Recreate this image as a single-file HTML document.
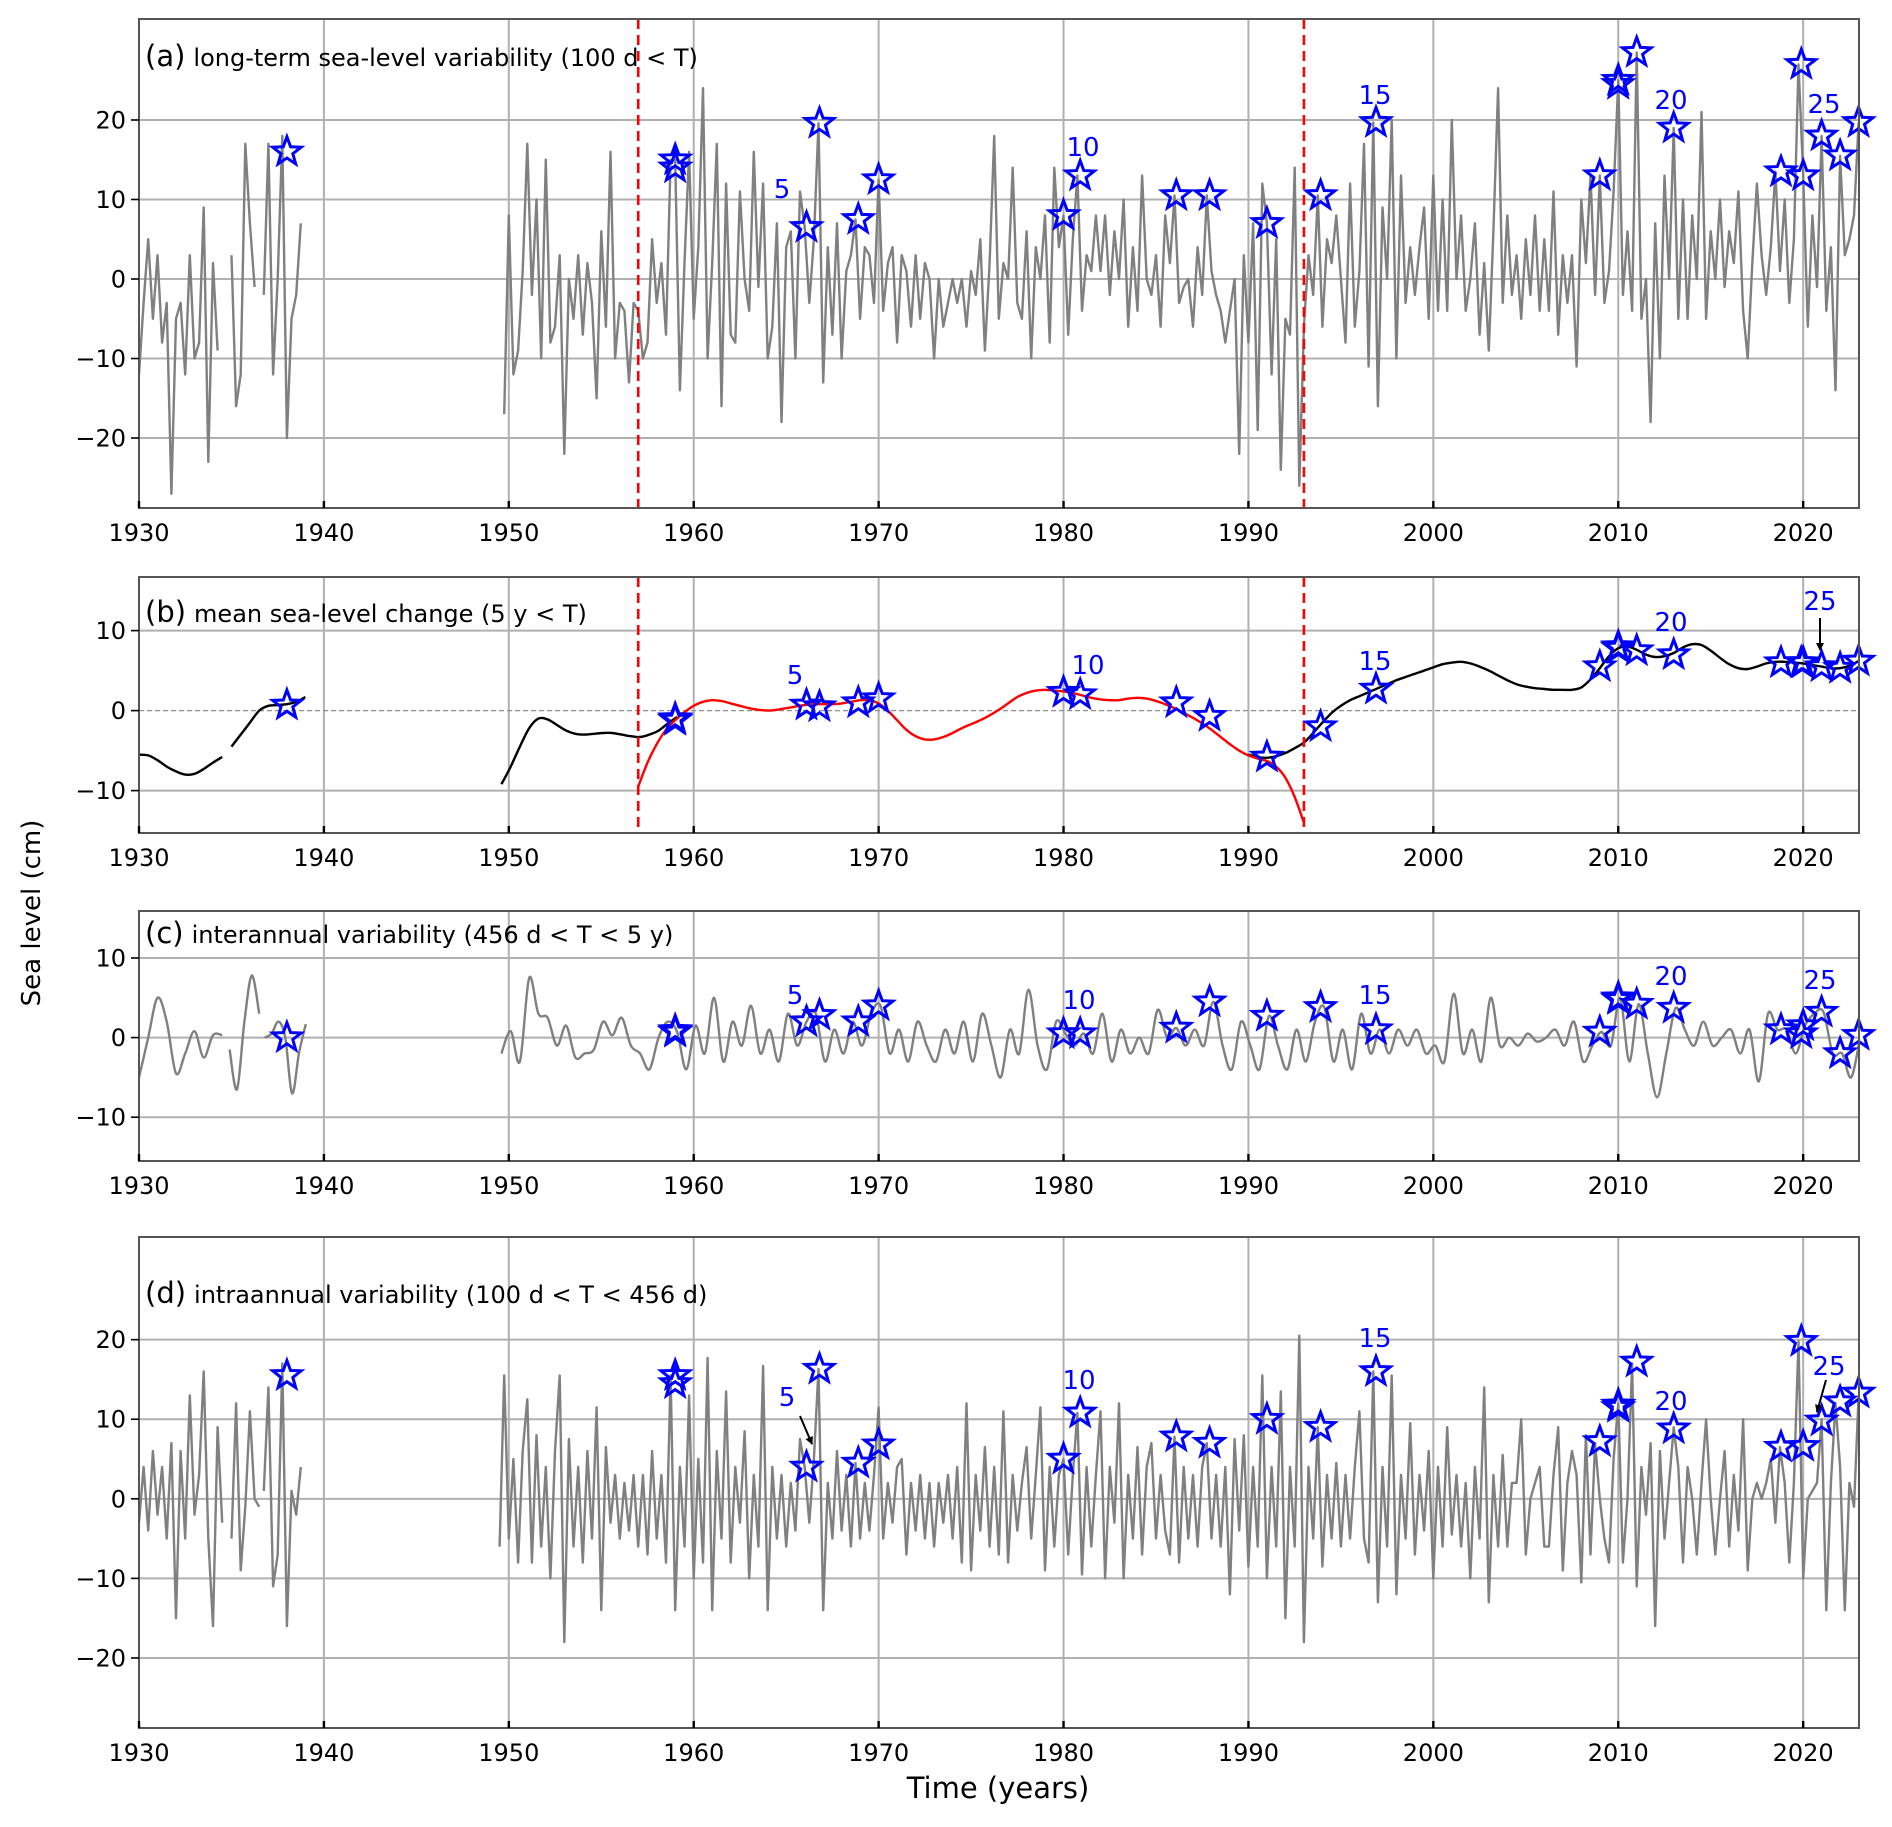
<!DOCTYPE html>
<html><head><meta charset="utf-8"><title>Sea level components</title>
<style>
body{margin:0;background:#fff;}
svg{display:block;font-family:"DejaVu Sans","Liberation Sans",sans-serif;}
</style></head>
<body>
<svg id="chart" width="1892" height="1827" viewBox="0 0 1892 1827" xmlns="http://www.w3.org/2000/svg">
<text x="40" y="913" font-size="26" text-anchor="middle" transform="rotate(-90 40 913)">Sea level (cm)</text>
<text x="998" y="1798" font-size="29" text-anchor="middle">Time (years)</text>
</svg>
<script>
// ---------- data ----------
const xTicks = [1930,1940,1950,1960,1970,1980,1990,2000,2010,2020];
const yTicksA = [-20,-10,0,10,20];
const yTicksB = [-10,0,10];
const breakYears = [1957,1993];

// Panel (a) long-term, quarterly segments
const aSeg1Start = 1930;
const aSeg1 = [-12,-3,5,-5,3,-8,-3,-27,-5,-3,-12,3,-10,-8,9,-23,2,-9];
const aSeg2Start = 1935;
const aSeg2 = [3,-16,-12,17,7,-1];
const aSeg3Start = 1936.75;
const aSeg3 = [-2,17,-12,0,18,-20,-5,-2,7];
const aSeg4Start = 1949.75;
const aSeg4 = [-17,
8,-12,-9,1, 17,-2,10,-10, 15,-8,-6,3, -22,0,-5,3, -7,2,-3,-15,
6,-6,16,-10, -3,-4,-13,-3, -4,-10,-8,5, -3,2,-7,15, 15,-14,2,16,
-5,4,24,-10, 2,17,-16,12, -7,-8,11,0, -4,16,-1,12, -10,-6,7,-18,
4,6,-10,11, 6.5,-3,5,19.6, -13,4,-7,7, -10,1,3,7.5, -5,4,3,-3,
12.5,-4,2,4, -8,3,1,-6, 3,-5,2,0, -10,0,-6,-3, 0,-3,0,-6,
1,-2,5,-9, 2,18,-5,2, 0,14,-3,-5, 6,-10,4,0, 8,-8,14,4,
8,-7,5,13, -4,3,1,8, 1,8,-2,6, 0,10,-6,4, -4,13,0,-2,
3,-6,8,2, 10.5,-3,-1,0, -6,4,-2,10.5, 1,-2,-4,-8, -4,0,-22,3,
-8,7,-19,12, 7,-12,5,-24, -5,-7,14,-26, -6,3,-2,10.5, -6,5,2,8,
0,-8,12,-6, 1,17,-11,19.7, -16,9,0,20, -10,13,-3,4, -2,4,9,-5,
13,-4,10,-4, 20,0,8,-4, 0,7,-7,2, -9,6,24,-3, 8,-2,3,-5,
5,-2,8,-4, 5,-4,11,-7, 3,-3,3,-11, 10,2,13,-2, 13,-3,1,11,
25,-2,6,-4, 28.5,-5,0,-18, 7,-10,13,0, 19,-5,10,-5, 8,0,21,-5,
6,0,10,-1, 6,2,11,-4, -10,2,12,3, -2,4,13.5,1, 10,-3,5,27,
13,-6,8,-1, 18,-4,4,-14, 15.5,3,5,8, 19.7];

// Panel (b) mean sea level (half-year knots)
const bSeg1Start = 1930;
const bSeg1 = [-5.5,-5.6,-6.2,-7,-7.6,-8,-7.9,-7.3,-6.5,-5.8];
const bSeg2Start = 1935;
const bSeg2 = [-4.5,-3,-1.5,0,0.6,0.7,0.8,1.1,1.7];
const bSeg3Start = 1949.6;
const bSeg3 = [-9.2,-7,-4.5,-2.2,-1.0,-1.1,-1.8,-2.5,-2.9,-3.0,-2.9,-2.8,-2.8,-3.0,-3.2,-3.3,-3.0,-2.5,-1.6,-0.8];
const bSeg4Start = 1990;
const bSeg4 = [-5.5,-5.8,-5.9,-5.7,-5.3,-4.7,-4.0,-2.8,-1.5,-0.3,0.6,1.3,1.8,2.3,2.8,3.3,3.8,4.2,4.6,5.0,5.4,5.8,6.0,6.1,5.9,5.5,5.0,4.4,3.8,3.3,3.0,2.8,2.7,2.6,2.6,2.6,2.9,3.9,5.3,6.8,7.8,8.0,7.6,7.0,6.7,6.8,7.2,7.9,8.3,8.2,7.5,6.6,5.8,5.3,5.2,5.5,5.9,6.1,6.1,6.0,5.9,5.7,5.5,5.3,5.3,5.6,6.2];
const bRedStart = 1957;
const bRed = [-9.5,-6.5,-4.2,-2.4,-1.2,-0.2,0.6,1.1,1.3,1.2,0.9,0.6,0.3,0.1,0.0,0.1,0.3,0.5,0.7,0.8,0.8,0.8,0.9,1.1,1.3,1.3,0.9,0,-1.2,-2.4,-3.2,-3.6,-3.6,-3.3,-2.8,-2.2,-1.7,-1.2,-0.6,0.1,0.9,1.7,2.2,2.5,2.6,2.5,2.4,2.2,1.9,1.6,1.4,1.3,1.3,1.5,1.6,1.5,1.2,0.8,0.3,-0.3,-0.9,-1.6,-2.4,-3.3,-4.2,-5.0,-5.6,-6.0,-6.3,-7.0,-8.4,-10.8,-14];

// Panel (c) interannual (half-year knots)
const cSeg1Start = 1930;
const cSeg1 = [-5,0,5,2,-4.5,-2,0.8,-2.5,0.3,0.3];
const cSeg2Start = 1934.9;
const cSeg2 = [-1.5,-6.5,2,7.8,3];
const cSeg2Step = 0.4;
const cSeg3Start = 1936.8;
const cSeg3 = [0,0.5,2,0,-7,-2,1.7];
const cSeg3Step = 0.37;
const cSeg4Start = 1949.6;
const cSeg4 = [-2,0.8,-3,7.5,3,2.5,-1,1.5,-2.5,-2,-1.5,2,0.3,2.5,-1,-2,-4,0,2,0.7,-4,1.5,-2,5,-3,2,-1,4,-2,1,-3,3,-1,2,3,-3,1,-2,2,-1,3,4,-2,1,-3,2,-1,-3,1,-2,2,-3,3,-1,-5,1,-2,6,-1,-4,2,0.5,-1,0.5,-2,3,-3,1,-2,0,-2,3.5,0,1.2,-1,1,-1,4.5,-1,-4,2,-1,-4,2.7,-1,-4,1,-3,2,3.8,-3,1,-4,3,-2,1,-2,1,-1,1,-2,-1,-3,5.5,-2,1,-3,5,-1,0,-1,0.5,-0.5,0,1,-1,2,-3,-1,0.7,-1,5,-3,4.2,-2,-7.5,-2,3.7,1,-1,2,-1,0,1,-2,1,-5.5,3,1,1,-2,1.5,3,3.2,-2,-2,-5,0.3];

// Panel (d) intraannual, quarterly segments
const dSeg1Start = 1930;
const dSeg1 = [-3,4,-4,6,-2,4,-5,7,-15,6,-5,13,-2,3,16,-5,-16,9,-3];
const dSeg2Start = 1935;
const dSeg2 = [-5,12,-9,-1,11,0,-1];
const dSeg3Start = 1936.75;
const dSeg3 = [1,14,-11,-7,17,-16,1,-2,4];
const dSeg4Start = 1949.5;
const dSeg4 = [-6,15.5,
-5,5,-8,6, 12.5,-8,8,-6, 4,-10,6,15.5, -18,7.5,-6,4, -8,6,-5,11.5,
-14,6.5,-3,3, -5,2,-4,3, -6,3,-7,6, -5,3,-8,15.5, -14,4,-6,13,
-10,5,-8,17.7, -14,6,-5,13.5, -8,4,-3,8.5, -10,3,-6,16.7, -14,4,-5,3,
-6,2,-4,7.5, 4,-3,5,16.3, -14,2,-5,6, -4,3,-6,4.5, -5,2,-4,3,
11.5,-5,2,-3, 4,5,-7,2, -4,3,-5,2, -6,2,-3,3, -5,4,-8,12,
-9,3,-4,6.5, -6,4,-7,11, -8,3,-4,2, 6.5,-5,3,11.5, -9,4,-6,3,
5,-7,3,10.8, -9.5,4,-6,3, 11,-10,4,-3, 12,-10,3,-5, 6.5,-7,4,7,
-5,3,-4,-7, 7.8,-8,4,-5, 3,-6,4,7, -5,3,-6,4, -12,7.5,-4,8,
-8.5,4,-6,15.5, -10,4,-6,13.5, -15,4,-6,20.5, -18,4,-5,9, -8.5,3,-5,4.5,
-6,3,-5,4, 11,-5,-8,16, -13,4,-6,15.5, -12,3,-5,9.5, -7,3,-4,6,
-10,4,-6,9, -4.5,3,-6,2, -10,4,-5,14, -13,3,-6,5.5, -6,2,2,10,
-7,0,2,4, -6,-6,3,9, -9,2,6,3, -10.5,8,-7,7, 0,-5,-8,5,
12,-8,0,17, -11,4,-2,7, -16,6,-5,2, 9,4,-8,4, 0,-7,2,10,
0,-7,0,6, -6,3,-4,10, -9,0,2,0, 2,5,-3,6.5, 2,-8,2,19.8,
-10,0,1,2, 10,-14,2,12, 4,-14,2,-1, 13];

// Events (stars)
const starYears = [1938,1959,1959,1966.1,1966.8,1968.9,1970.0,1980.0,1980.9,1986.1,1987.9,1991.0,1993.9,1996.9,2009.0,2010.0,2010.0,2011.0,2013.0,2018.8,2019.9,2020.0,2021.0,2022.0,2023.0];
const starA = [16,15,14,6.5,19.6,7.5,12.5,8,13,10.5,10.5,7,10.5,19.7,13,25,24.5,28.5,19,13.5,27,13,18,15.5,19.7];
const starB = [0.7,-1,-1.2,0.7,0.5,1,1.5,2.3,2,1,-0.7,-5.8,-2,2.7,5.5,8,7.8,7.5,7,6,6,6,5.5,5.3,6.2];
const starC = [0,0.7,0.9,2,2.8,2,4,0.5,0.5,1.2,4.5,2.7,3.8,1,0.7,5,4.8,4.2,3.7,1,0.5,1.5,3.2,-2,0.3];
const starD = [15.5,15.5,14.5,4,16.3,4.5,6.8,5,10.8,7.8,7,10,9,16,7.2,11.8,11.5,17.2,8.8,6.5,19.8,6.6,9.8,12.2,13.3];

// ---------- rendering ----------
const NS = 'http://www.w3.org/2000/svg';
const svg = document.getElementById('chart');
const X0 = 139, X1 = 1859, YR0 = 1930, YR1 = 2023.02;
function xs(yr){ return X0 + (yr - YR0) * (X1 - X0) / (YR1 - YR0); }
function mk(tag, attrs, parent){
  const e = document.createElementNS(NS, tag);
  for (const k in attrs) e.setAttribute(k, attrs[k]);
  (parent || svg).appendChild(e);
  return e;
}
function ptsOf(start, step, vals, ys){
  return vals.map((v,i)=>[xs(start + i*step), ys(v)]);
}
function linePath(p){ return 'M' + p.map(q=>q[0].toFixed(1)+','+q[1].toFixed(1)).join('L'); }
function smoothPath(p){
  let d = 'M'+p[0][0].toFixed(1)+','+p[0][1].toFixed(1);
  for (let i=0;i<p.length-1;i++){
    const p0=p[Math.max(0,i-1)], p1=p[i], p2=p[i+1], p3=p[Math.min(p.length-1,i+2)];
    const c1=[p1[0]+(p2[0]-p0[0])/6, p1[1]+(p2[1]-p0[1])/6];
    const c2=[p2[0]-(p3[0]-p1[0])/6, p2[1]-(p3[1]-p1[1])/6];
    d += 'C'+c1[0].toFixed(1)+','+c1[1].toFixed(1)+' '+c2[0].toFixed(1)+','+c2[1].toFixed(1)+' '+p2[0].toFixed(1)+','+p2[1].toFixed(1);
  }
  return d;
}
function starPts(cx, cy){
  const R=15, r=6.2, out=[];
  for (let k=0;k<10;k++){
    const a = -Math.PI/2 + k*Math.PI/5, rr = k%2?r:R;
    out.push((cx+rr*Math.cos(a)).toFixed(1)+','+(cy+rr*Math.sin(a)).toFixed(1));
  }
  return out.join(' ');
}

const panels = [
  {key:'a', top:19, bot:508, ymin:-28.8, ymax:32.7, yt:yTicksA, title:'long-term sea-level variability (100 d < T)', ty:66, breaks:true, stars:starA},
  {key:'b', top:577, bot:833, ymin:-15.3, ymax:16.7, yt:yTicksB, title:'mean sea-level change (5 y < T)', ty:622, breaks:true, stars:starB},
  {key:'c', top:911, bot:1161, ymin:-15.5, ymax:15.9, yt:yTicksB, title:'interannual variability (456 d < T < 5 y)', ty:943, breaks:false, stars:starC},
  {key:'d', top:1237, bot:1728, ymin:-28.8, ymax:32.9, yt:yTicksA, title:'intraannual variability (100 d < T < 456 d)', ty:1303, breaks:false, stars:starD}
];

panels.forEach(P=>{
  const ys = v => P.bot - (v - P.ymin) * (P.bot - P.top) / (P.ymax - P.ymin);
  const g = mk('g', {});
  
  
  const clipId = 'clip-'+P.key;
  const cp = mk('clipPath', {id:clipId}, g);
  mk('rect', {x:X0, y:P.top, width:X1-X0, height:P.bot-P.top}, cp);
  xTicks.forEach(t=>{
    const l = mk('line', {x1:xs(t), x2:xs(t), y1:P.top, y2:P.bot, stroke:'#b0b0b0', 'stroke-width':2}, g);
    
    
  });
  P.yt.forEach(t=>{
    const isZeroB = (P.key==='b' && t===0);
    const l = mk('line', {x1:X0, x2:X1, y1:ys(t), y2:ys(t), stroke: isZeroB?'#909090':'#b0b0b0', 'stroke-width': isZeroB?1.3:2, 'stroke-dasharray': isZeroB?'5,3':'none'}, g);
    
    
  });
  const plot = mk('g', {'clip-path':'url(#'+clipId+')'}, g);
  function series(start, step, vals, color, smooth, name, w){
    const p = ptsOf(start, step, vals, ys);
    const path = mk('path', {d: smooth?smoothPath(p):linePath(p), fill:'none', stroke:color, 'stroke-width':w||2.4, 'stroke-linejoin':'round'}, plot);
    
    
  }
  if (P.key==='a'){
    series(aSeg1Start,0.25,aSeg1,'#808080',false,'longterm-line');
    series(aSeg2Start,0.25,aSeg2,'#808080',false,'longterm-line');
    series(aSeg3Start,0.25,aSeg3,'#808080',false,'longterm-line');
    series(aSeg4Start,0.25,aSeg4,'#808080',false,'longterm-line');
  } else if (P.key==='b'){
    series(bSeg1Start,0.5,bSeg1,'#000',true,'mean-sea-level-line');
    series(bSeg2Start,0.5,bSeg2,'#000',true,'mean-sea-level-line');
    series(bSeg3Start,0.5,bSeg3,'#000',true,'mean-sea-level-line');
    series(bSeg4Start,0.5,bSeg4,'#000',true,'mean-sea-level-line');
    series(bRedStart,0.5,bRed,'#ff0000',true,'mean-sea-level-fit-red');
  } else if (P.key==='c'){
    series(cSeg1Start,0.5,cSeg1,'#808080',true,'interannual-line');
    series(cSeg2Start,cSeg2Step,cSeg2,'#808080',true,'interannual-line');
    series(cSeg3Start,cSeg3Step,cSeg3,'#808080',true,'interannual-line');
    series(cSeg4Start,0.5,cSeg4,'#808080',true,'interannual-line');
  } else {
    series(dSeg1Start,0.25,dSeg1,'#808080',false,'intraannual-line');
    series(dSeg2Start,0.25,dSeg2,'#808080',false,'intraannual-line');
    series(dSeg3Start,0.25,dSeg3,'#808080',false,'intraannual-line');
    series(dSeg4Start,0.25,dSeg4,'#808080',false,'intraannual-line');
  }
  if (P.breaks){
    breakYears.forEach(by=>{
      const l = mk('line', {x1:xs(by), x2:xs(by), y1:P.top, y2:P.bot, stroke:'#ff0000', 'stroke-width':2.6, 'stroke-dasharray':'10,6'}, g);
      
      
    });
  }
  starYears.forEach((yr,i)=>{
    const s = mk('polygon', {points: starPts(xs(yr), ys(P.stars[i])), fill:'none', stroke:'#0000ff', 'stroke-width':3, 'stroke-linejoin':'miter'}, g);
    
    
  });
  const sp = mk('rect', {x:X0, y:P.top, width:X1-X0, height:P.bot-P.top, fill:'none', stroke:'#555', 'stroke-width':2}, g);
  
  
  xTicks.forEach(t=>{
    mk('line', {x1:xs(t), x2:xs(t), y1:P.bot, y2:P.bot-7, stroke:'#000', 'stroke-width':2.4}, g);
    const tx = mk('text', {x:xs(t), y:P.bot+33, 'font-size':24, 'text-anchor':'middle', fill:'#000'}, g);
    tx.textContent = t;
    
    
  });
  P.yt.forEach(t=>{
    mk('line', {x1:X0-8, x2:X0, y1:ys(t), y2:ys(t), stroke:'#000', 'stroke-width':1.6}, g);
    const tx = mk('text', {x:X0-13, y:ys(t)+8.5, 'font-size':24, 'text-anchor':'end', fill:'#000'}, g);
    tx.textContent = t<0 ? '\u2212'+Math.abs(t) : String(t);
    
    
  });
  const tl = mk('text', {x:145, y:P.ty, fill:'#000'}, g);
  
  
  const t1 = mk('tspan', {'font-size':29}, tl); t1.textContent = '('+P.key+')';
  const t2 = mk('tspan', {'font-size':24, dx:8}, tl); t2.textContent = P.title;
});

const annot = [
  ['5',782,198],['10',1083,156],['15',1375,104],['20',1671,109],['25',1824,113],
  ['5',795,684],['10',1088,674],['15',1375,670],['20',1671,631],['25',1820,610],
  ['5',795,1004],['10',1079,1009],['15',1375,1004],['20',1671,985],['25',1820,989],
  ['5',787,1406],['10',1079,1389],['15',1375,1347],['20',1671,1410],['25',1829,1375]
];
annot.forEach(a=>{
  const t = mk('text', {x:a[1], y:a[2], 'font-size':26, 'text-anchor':'middle', fill:'#0000ff'});
  t.textContent = a[0];
  
  
});
const defs = mk('defs', {});
const mkr = mk('marker', {id:'ah', markerWidth:8, markerHeight:8, refX:7, refY:4, orient:'auto', markerUnits:'userSpaceOnUse'}, defs);
mk('path', {d:'M0,0 L8,4 L0,8 Z', fill:'#000'}, mkr);
[[1820,618,1820,650],[1826,1380,1817,1412],[800,1416,812,1444]].forEach(a=>{
  const l = mk('line', {x1:a[0], y1:a[1], x2:a[2], y2:a[3], stroke:'#000', 'stroke-width':2, 'marker-end':'url(#ah)'});
  
  
});
</script>
</body></html>
